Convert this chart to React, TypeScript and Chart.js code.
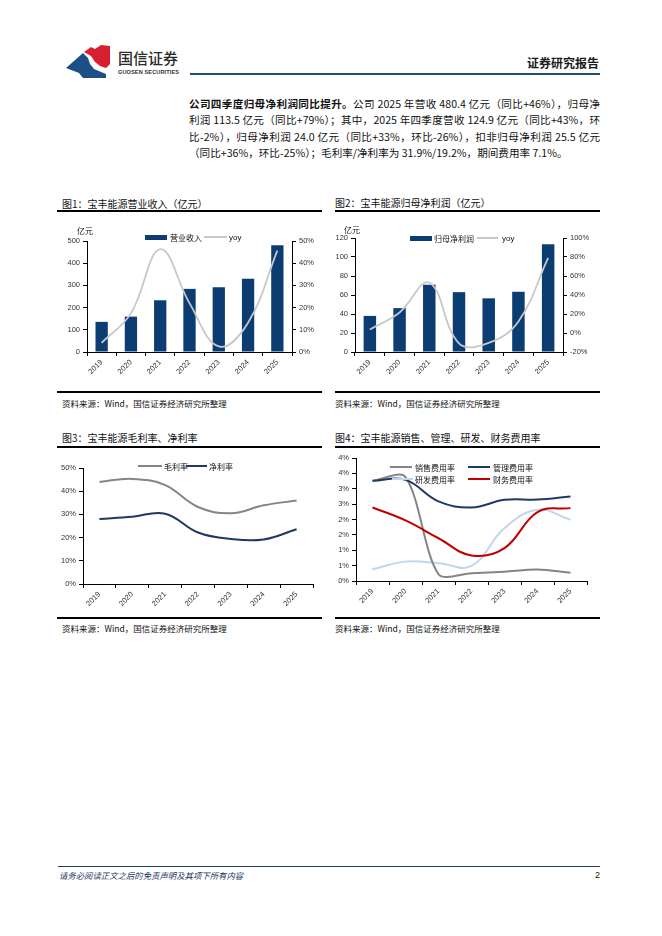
import React, { useEffect, useRef } from "react";
import { Chart, registerables } from "chart.js";

Chart.register(...registerables);
Chart.defaults.font.family = "'Liberation Sans', 'Noto Sans CJK SC', sans-serif";

const years = ["2019", "2020", "2021", "2022", "2023", "2024", "2025"];
const revenue = [135.7, 159.3, 233.0, 284.3, 291.4, 329.8, 480.4];
const revenueYoy = [4.1, 17.4, 46.3, 22.0, 2.5, 13.2, 45.7];
const netProfit = [38.0, 46.2, 70.7, 63.0, 56.5, 63.4, 113.5];
const netProfitYoy = [3.6, 21.6, 52.9, -10.9, -10.3, 12.2, 79.0];
const grossMargin = [44.0, 45.3, 42.6, 33.2, 30.5, 33.9, 36.0];
const netMargin = [28.0, 29.0, 30.3, 22.2, 19.4, 19.2, 23.6];
const sellingRate = [3.26, 3.38, 0.22, 0.25, 0.3, 0.37, 0.27];
const adminRate = [3.26, 3.29, 2.59, 2.39, 2.64, 2.65, 2.75];
const rdRate = [0.38, 0.63, 0.58, 0.49, 1.72, 2.32, 1.99];
const financeRate = [2.39, 1.97, 1.39, 0.83, 1.07, 2.24, 2.37];

const NAVY_BAR = "#0b3d73";
const YOY_GRAY = "#c8c8c8";
const GRAY = "#858585";
const NAVY = "#1f3864";
const LIGHT_BLUE = "#c2d5ea";
const RED = "#c00000";

const tickFont = { size: 7.5 };
const tickColor = "#333";

function axisGrid() {
  return { display: true, drawOnChartArea: false, drawTicks: true, tickLength: 4, color: "#000", lineWidth: 1 };
}
function axisBorder() {
  return { display: true, color: "#000", width: 1 };
}
function xAxis(h: number) {
  return {
    type: "category",
    offset: true,
    grid: { ...axisGrid(), offset: true },
    border: axisBorder(),
    ticks: { minRotation: 45, maxRotation: 45, font: tickFont, color: tickColor, padding: 2, autoSkip: false },
    afterFit: (s: any) => { s.height = h; },
  };
}
function yAxis(pos: string, w: number, min: number, max: number, step: number, fmt: (v: number) => string) {
  return {
    position: pos,
    min, max,
    grid: axisGrid(),
    border: axisBorder(),
    ticks: { stepSize: step, font: tickFont, color: tickColor, padding: 3, callback: (v: any) => fmt(Number(v)) },
    afterFit: (s: any) => { s.width = w; },
  };
}
function baseOptions(padRight: number, scales: any) {
  return {
    animation: false,
    responsive: true,
    maintainAspectRatio: false,
    layout: { padding: { top: 10, right: padRight, left: 0, bottom: 0 } },
    plugins: { legend: { display: false }, tooltip: { enabled: false } },
    scales,
  };
}
function lineDs(label: string, data: number[], color: string, yAxisID = "y", width = 2, order = 0, tension = 0.4) {
  return { type: "line", label, data, yAxisID, borderColor: color, backgroundColor: color, borderWidth: width, pointRadius: 0, tension, fill: false, order };
}

function chart1(): any {
  return {
    type: "bar",
    data: {
      labels: years,
      datasets: [
        lineDs("yoy", revenueYoy, YOY_GRAY, "y1", 1.8, 0),
        { type: "bar", label: "营业收入", data: revenue, yAxisID: "y", backgroundColor: NAVY_BAR, barPercentage: 0.42, categoryPercentage: 1, order: 1 },
      ],
    },
    options: baseOptions(0, {
      x: xAxis(38),
      y: yAxis("left", 30, 0, 500, 100, (v) => String(v)),
      y1: yAxis("right", 30, 0, 50, 10, (v) => v + "%"),
    }),
  };
}
function chart2(): any {
  return {
    type: "bar",
    data: {
      labels: years,
      datasets: [
        lineDs("yoy", netProfitYoy, YOY_GRAY, "y1", 1.8, 0),
        { type: "bar", label: "归母净利润", data: netProfit, yAxisID: "y", backgroundColor: NAVY_BAR, barPercentage: 0.42, categoryPercentage: 1, order: 1 },
      ],
    },
    options: baseOptions(0, {
      x: xAxis(38),
      y: yAxis("left", 20, 0, 120, 20, (v) => String(v)),
      y1: yAxis("right", 37, -20, 100, 20, (v) => v + "%"),
    }),
  };
}
function chart3(): any {
  return {
    type: "line",
    data: {
      labels: years,
      datasets: [lineDs("毛利率", grossMargin, GRAY), lineDs("净利率", netMargin, NAVY)],
    },
    options: baseOptions(9, {
      x: xAxis(32),
      y: yAxis("left", 26, 0, 50, 5, (v) => v + "%"),
    }),
  };
}
function chart4(): any {
  return {
    type: "line",
    data: {
      labels: years,
      datasets: [
        lineDs("研发费用率", rdRate, LIGHT_BLUE, "y", 2, 3),
        lineDs("销售费用率", sellingRate, GRAY, "y", 2, 2, 0.3),
        lineDs("财务费用率", financeRate, RED, "y", 2, 1),
        lineDs("管理费用率", adminRate, NAVY, "y", 2, 0),
      ],
    },
    options: baseOptions(13, {
      x: xAxis(35),
      y: yAxis("left", 21, 0, 4, 0.5, (v) => Math.round(v) + "%"),
    }),
  };
}

function ChartBox(props: { left: number; top: number; width: number; height: number; make: () => any }) {
  const ref = useRef<HTMLCanvasElement>(null);
  useEffect(() => {
    const chart = new Chart(ref.current as HTMLCanvasElement, props.make());
    return () => chart.destroy();
  }, []);
  return (
    <div style={{ position: "absolute", left: props.left, top: props.top, width: props.width, height: props.height }}>
      <canvas ref={ref} />
    </div>
  );
}

const abs = (left: number, top: number, extra: any = {}) => ({ position: "absolute" as const, left, top, ...extra });

function Txt(props: { x: number; y: number; size: number; children: any; style?: any }) {
  const lh = Math.round(props.size * 1.4);
  return (
    <div style={abs(props.x, props.y - lh / 2, { fontSize: props.size, lineHeight: lh + "px", whiteSpace: "nowrap", ...(props.style || {}) })}>
      {props.children}
    </div>
  );
}

function HLine(props: { x1: number; x2: number; y: number; h?: number; color?: string }) {
  const h = props.h || 1;
  return <div style={abs(props.x1, props.y - h / 2, { width: props.x2 - props.x1, height: h, background: props.color || "#000" })} />;
}

function LegLine(props: { x1: number; x2: number; y: number; color: string; h?: number }) {
  return <HLine x1={props.x1} x2={props.x2} y={props.y} h={props.h || 2} color={props.color} />;
}

const paraLines: any[] = [
  <><b>公司四季度归母净利润同比提升。</b>公司 2025 年营收 480.4 亿元（同比+46%），归母净</>,
  <>利润 113.5 亿元（同比+79%）；其中，2025 年四季度营收 124.9 亿元（同比+43%，环</>,
  <>比-2%），归母净利润 24.0 亿元（同比+33%，环比-26%），扣非归母净利润 25.5 亿元</>,
  <>（同比+36%，环比-25%）；毛利率/净利率为 31.9%/19.2%，期间费用率 7.1%。</>,
];

export default function App() {
  useEffect(() => {
    document.body.style.margin = "0";
  }, []);
  const legFont = 8;
  return (
    <div style={{ position: "absolute", left: 0, top: 0, width: 662, height: 936, background: "#fff", overflow: "hidden", fontFamily: "'Noto Sans CJK SC', sans-serif", color: "#111" }}>
      {/* header */}
      <svg style={abs(66, 45)} width={44} height={33} viewBox="0 0 44 33">
        <polygon points="0,23 17,8 22,13 24,19 28,24 40,29 40,33 17,33 13,28" fill="#1d4f86" />
        <polygon points="18,7 25,2 29,4 35,0 44,1 44,19 40,23 34,21 29,17 25,11" fill="#d7202f" />
      </svg>
      <Txt x={118} y={57} size={15} style={{ color: "#2a2a2a", fontWeight: 500, letterSpacing: 0 }}>国信证券</Txt>
      <Txt x={118} y={72} size={5.6} style={{ color: "#333", fontFamily: "'Liberation Sans Narrow', 'Liberation Sans', sans-serif", fontWeight: 700, letterSpacing: 0.1 }}>GUOSEN SECURITIES</Txt>
      <Txt x={527} y={62} size={12} style={{ fontWeight: 700, color: "#1a1a1a" }}>证券研究报告</Txt>
      <HLine x1={190} x2={600} y={74} h={2} color="#1f4e79" />

      {/* paragraph */}
      {paraLines.map((ln, i) => (
        <div key={i} style={abs(189, 96 + i * 16.4, { width: 411, fontSize: 10.6, lineHeight: "16px", whiteSpace: "nowrap", textAlign: i < 3 ? "justify" : "left", textAlignLast: i < 3 ? "justify" : "left", color: "#111" })}>
          {ln}
        </div>
      ))}

      {/* chart 1 */}
      <Txt x={62} y={204} size={10}>图1：宝丰能源营业收入（亿元）</Txt>
      <HLine x1={57} x2={322} y={211} h={1.5} />
      <ChartBox left={57} top={231} width={265} height={159} make={chart1} />
      <Txt x={77} y={230} size={8}>亿元</Txt>
      <div style={abs(145, 234.5, { width: 22, height: 5, background: NAVY_BAR })} />
      <Txt x={170} y={237} size={legFont}>营业收入</Txt>
      <LegLine x1={204} x2={227} y={237} color={YOY_GRAY} />
      <Txt x={229} y={237} size={legFont} style={{ fontFamily: "'Liberation Sans', sans-serif" }}>yoy</Txt>
      <HLine x1={57} x2={322} y={392} h={1.5} />
      <Txt x={62} y={403} size={8.5}>资料来源：Wind，国信证券经济研究所整理</Txt>

      {/* chart 2 */}
      <Txt x={335} y={203} size={10}>图2：宝丰能源归母净利润（亿元）</Txt>
      <HLine x1={335} x2={600} y={211} h={1.5} />
      <ChartBox left={335} top={228} width={265} height={162} make={chart2} />
      <Txt x={344} y={229.5} size={8}>亿元</Txt>
      <div style={abs(410, 235.5, { width: 22, height: 5, background: NAVY_BAR })} />
      <Txt x={434} y={238} size={legFont}>归母净利润</Txt>
      <LegLine x1={477} x2={498} y={238} color={YOY_GRAY} />
      <Txt x={502} y={238} size={legFont} style={{ fontFamily: "'Liberation Sans', sans-serif" }}>yoy</Txt>
      <HLine x1={335} x2={600} y={392} h={1.5} />
      <Txt x={335} y={403} size={8.5}>资料来源：Wind，国信证券经济研究所整理</Txt>

      {/* chart 3 */}
      <Txt x={62} y={438} size={10}>图3：宝丰能源毛利率、净利率</Txt>
      <HLine x1={57} x2={322} y={447} h={1.5} />
      <ChartBox left={57} top={458} width={265} height={158} make={chart3} />
      <LegLine x1={138} x2={162} y={466} color={GRAY} />
      <Txt x={164} y={466} size={legFont}>毛利率</Txt>
      <LegLine x1={186} x2={207} y={466} color={NAVY} />
      <Txt x={209} y={466} size={legFont}>净利率</Txt>
      <HLine x1={57} x2={322} y={618} h={1.5} />
      <Txt x={62} y={628} size={8.5}>资料来源：Wind，国信证券经济研究所整理</Txt>

      {/* chart 4 */}
      <Txt x={335} y={438} size={10}>图4：宝丰能源销售、管理、研发、财务费用率</Txt>
      <HLine x1={335} x2={600} y={447} h={1.5} />
      <ChartBox left={335} top={448} width={265} height={168} make={chart4} />
      <LegLine x1={390} x2={412} y={467} color={GRAY} />
      <Txt x={415} y={467} size={legFont}>销售费用率</Txt>
      <LegLine x1={468} x2={490} y={467} color={NAVY} />
      <Txt x={493} y={467} size={legFont}>管理费用率</Txt>
      <LegLine x1={392} x2={413} y={479} color={LIGHT_BLUE} />
      <Txt x={415} y={479} size={legFont}>研发费用率</Txt>
      <LegLine x1={468} x2={490} y={479} color={RED} />
      <Txt x={493} y={479} size={legFont}>财务费用率</Txt>
      <HLine x1={335} x2={600} y={618} h={1.5} />
      <Txt x={335} y={628} size={8.5}>资料来源：Wind，国信证券经济研究所整理</Txt>

      {/* footer */}
      <HLine x1={58} x2={600} y={866} h={1} color="#1f3864" />
      <Txt x={59} y={875} size={8.4} style={{ fontStyle: "italic", color: "#1f3864" }}>请务必阅读正文之后的免责声明及其项下所有内容</Txt>
      <Txt x={595} y={875} size={9} style={{ fontFamily: "'Liberation Sans', sans-serif" }}>2</Txt>
    </div>
  );
}
